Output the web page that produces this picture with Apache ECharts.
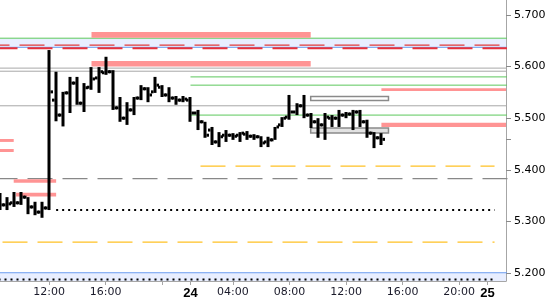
<!DOCTYPE html>
<html><head><meta charset="utf-8">
<script src="https://cdn.jsdelivr.net/npm/echarts@6/dist/echarts.min.js"></script>
<style>html,body{margin:0;padding:0;background:#fff}#c{width:550px;height:300px}</style>
</head><body><div id="c"></div>
<script>
// ---- data ----
// OHLC 30-minute bars: [time, open, high, low, close]
const bars = [
  ["23 08:30",5.332,5.355,5.322,5.332],
  ["23 09:00",5.332,5.347,5.322,5.334],
  ["23 09:30",5.336,5.357,5.328,5.336],
  ["23 10:00",5.336,5.357,5.332,5.347],
  ["23 10:30",5.347,5.347,5.314,5.328],
  ["23 11:00",5.328,5.338,5.312,5.318],
  ["23 11:30",5.318,5.338,5.307,5.326],
  ["23 12:00",5.326,5.632,5.322,5.551],
  ["23 12:30",5.535,5.590,5.494,5.506],
  ["23 13:00",5.506,5.551,5.484,5.549],
  ["23 13:30",5.549,5.580,5.510,5.568],
  ["23 14:00",5.568,5.580,5.526,5.529],
  ["23 14:30",5.529,5.568,5.512,5.559],
  ["23 15:00",5.560,5.599,5.555,5.576],
  ["23 15:30",5.578,5.599,5.549,5.590],
  ["23 16:00",5.588,5.619,5.584,5.590],
  ["23 16:30",5.590,5.593,5.516,5.520],
  ["23 17:00",5.520,5.541,5.493,5.500],
  ["23 17:30",5.500,5.531,5.487,5.516],
  ["23 18:00",5.516,5.541,5.506,5.539],
  ["23 18:30",5.539,5.564,5.535,5.557],
  ["23 19:00",5.557,5.560,5.531,5.545],
  ["23 19:30",5.551,5.580,5.549,5.564],
  ["23 20:00",5.560,5.564,5.541,5.545],
  ["23 20:30",5.545,5.560,5.531,5.539],
  ["23 21:00",5.539,5.543,5.526,5.535],
  ["23 21:30",5.535,5.543,5.531,5.537],
  ["24 01:00",5.535,5.541,5.493,5.510],
  ["24 01:30",5.510,5.516,5.477,5.493],
  ["24 02:00",5.493,5.493,5.462,5.467],
  ["24 02:30",5.477,5.483,5.448,5.454],
  ["24 03:00",5.454,5.473,5.444,5.464],
  ["24 03:30",5.467,5.477,5.454,5.467],
  ["24 04:00",5.467,5.471,5.458,5.465],
  ["24 04:30",5.467,5.473,5.454,5.471],
  ["24 05:00",5.469,5.475,5.458,5.465],
  ["24 05:30",5.465,5.469,5.458,5.464],
  ["24 06:00",5.464,5.465,5.444,5.452],
  ["24 06:30",5.454,5.464,5.444,5.458],
  ["24 07:00",5.458,5.483,5.458,5.483],
  ["24 07:30",5.487,5.502,5.483,5.500],
  ["24 08:00",5.502,5.545,5.497,5.512],
  ["24 08:30",5.512,5.529,5.506,5.524],
  ["24 09:00",5.524,5.545,5.500,5.506],
  ["24 09:30",5.506,5.510,5.481,5.493],
  ["24 10:00",5.493,5.500,5.462,5.487],
  ["24 10:30",5.487,5.510,5.458,5.502],
  ["24 11:00",5.500,5.506,5.483,5.500],
  ["24 11:30",5.500,5.516,5.483,5.506],
  ["24 12:00",5.506,5.512,5.500,5.508],
  ["24 12:30",5.508,5.516,5.477,5.512],
  ["24 13:00",5.512,5.516,5.483,5.493],
  ["24 13:30",5.493,5.497,5.462,5.471],
  ["24 14:00",5.471,5.473,5.442,5.462],
  ["24 14:30",5.462,5.471,5.448,5.459]
];
const lastPrice = 5.459;

// x-axis ticks (session time: 01:00-22:00 each day)
const xTickTimes  = ["23 12:00","23 16:00","23 20:00","24 01:00","24 04:00","24 08:00","24 12:00","24 16:00","24 20:00","25 01:00"];
const xTickLabels = ["12:00","16:00","","24","04:00","08:00","12:00","16:00","20:00","25"];
const yTickValues = [5.2,5.3,5.4,5.5,5.6,5.7];

// horizontal levels: [price, from, to]
const greenLevels = [[5.655,"23 08:00","25 03:00"],[5.580,"24 01:00","25 03:00"],[5.564,"24 01:00","25 03:00"],[5.506,"24 01:00","25 03:00"]];
const grayLevels = [[5.597,"23 08:00","25 03:00"],[5.591,"23 08:00","25 03:00"],[5.524,"23 08:00","25 03:00"]];
const grayDashLevels = [[5.383,"23 08:00","25 03:00"]];
const yellowDashLevels = [[5.407,"24 01:00","25 01:30"],[5.260,"23 08:00","25 01:30"]];
const blackDotLevels = [[5.322,"23 12:30","25 01:30"],[5.1875,"23 08:00","25 01:30"]];
const redThinLevels = [[5.6415,"23 08:00","25 03:00"]];
const redThickLevels = [[5.6355,"23 08:00","25 03:00"]];
const blueLevels = [[5.6373,"23 08:00","25 03:00"],[5.2005,"23 08:00","25 03:00"]];
// zones: [low, high, from, to]
const blueZones = [[5.6376,5.6545,"23 08:00","25 03:00"],[5.170,5.2005,"23 08:00","25 03:00"]];
const pinkZones = [
  [5.656,5.667,"23 15:00","24 09:30"],
  [5.600,5.611,"23 15:00","24 09:30"],
  [5.5525,5.558,"24 14:30","25 03:00"],
  [5.483,5.4913,"24 14:30","25 03:00"],
  [5.454,5.4597,"23 08:00","23 09:30"],
  [5.4345,5.4403,"23 08:00","23 09:30"],
  [5.375,5.3816,"23 09:30","23 12:30"],
  [5.348,5.3556,"23 09:40","23 12:30"]
];
const grayBoxes = [[5.5343,5.5421,"24 09:30","24 15:00"]];
const grayFilledBoxes = [[5.4713,5.481,"24 09:30","24 15:00"]];

// ---- helpers ----
function T(s){ const d=+s.slice(0,2), h=+s.slice(3,5), m=+s.slice(6,8); return (d-23)*21 + h + m/60 - 1; }
const xTickT = xTickTimes.map(T);
const FONT = "'DejaVu Sans', Verdana, sans-serif";

function hlines(arr, style, z){
  return arr.map(a => ({type:'line', data:[[T(a[1]),a[0]],[T(a[2]),a[0]]], symbol:'none', silent:true,
    animation:false, clip:true, lineStyle:style, z:z}));
}
function zoneSeries(arr, style, z){
  return {type:'custom', silent:true, animation:false, z:z,
    data: arr.map(a => [T(a[2]),T(a[3]),a[0],a[1]]),
    encode:{x:[0,1], y:[2,3]},
    renderItem(params, api){
      const cs = params.coordSys;
      const p1 = api.coord([api.value(0), api.value(3)]);
      const p2 = api.coord([api.value(1), api.value(2)]);
      let x1 = Math.max(cs.x, p1[0]), x2 = Math.min(cs.x+cs.width, p2[0]);
      let y1 = Math.max(cs.y, p1[1]), y2 = Math.min(cs.y+cs.height, p2[1]);
      return {type:'rect', shape:{x:x1, y:y1, width:x2-x1, height:y2-y1}, style:style};
    }};
}

const ohlc = bars.map(b => [T(b[0]), b[1], b[2], b[3], b[4]]);

const series = [].concat(
  [zoneSeries(blueZones, {fill:'#e8eeff'}, 1)],
  hlines(greenLevels, {color:'#5cc85c', width:1}, 3),
  hlines(grayLevels, {color:'#a8a8a8', width:1}, 3),
  hlines(grayDashLevels, {color:'#888888', width:1.2, type:[25,10]}, 3),
  hlines(yellowDashLevels, {color:'#ffc125', width:1.2, type:[25,10], dashOffset:-10}, 3),
  hlines(blackDotLevels, {color:'#000000', width:2, type:[2,4]}, 3),
  hlines(redThinLevels, {color:'#e03a3a', width:1.2, type:[25,10], dashOffset:8}, 4),
  hlines(redThickLevels, {color:'#e8303a', width:2, type:[25,10]}, 4),
  hlines(blueLevels, {color:'#6b9cf0', width:1}, 3),
  [zoneSeries(pinkZones, {fill:'#ff9494'}, 5)],
  [zoneSeries(grayBoxes, {fill:'#ffffff', stroke:'#8a8a8a', lineWidth:1.5}, 5)],
  [zoneSeries(grayFilledBoxes, {fill:'#e2e2e2', stroke:'#8a8a8a', lineWidth:1.5}, 5)],
  [{
    type:'custom', z:10, animation:false, silent:true,
    data: ohlc, encode:{x:0, y:[1,2,3,4]},
    renderItem(params, api){
      const t=api.value(0);
      const pO=api.coord([t,api.value(1)]), pH=api.coord([t,api.value(2)]),
            pL=api.coord([t,api.value(3)]), pC=api.coord([t,api.value(4)]);
      const x=Math.round(pH[0]);
      return {type:'group', children:[
        {type:'rect', shape:{x:x-1.5, y:pH[1], width:3, height:Math.max(pL[1]-pH[1],2)}, style:{fill:'#000'}},
        {type:'rect', shape:{x:x-4, y:pO[1]-1.5, width:2.5, height:3}, style:{fill:'#000'}},
        {type:'rect', shape:{x:x+1.5, y:pC[1]-1.5, width:2.5, height:3}, style:{fill:'#000'}}
      ]};
    },
    markLine:{
      silent:true, symbol:'none', animation:false,
      lineStyle:{opacity:0},
      data:[{yAxis:lastPrice}],
      label:{show:true, position:'end', distance:6, formatter: lastPrice.toFixed(3),
        fontFamily:FONT, fontSize:11, color:'#000',
        backgroundColor:'#ffd700', borderColor:'#d9a800', borderWidth:1,
        padding:[5,3,4,3]}
    }
  }]
);

const chart = echarts.init(document.getElementById('c'), null, {renderer:'canvas'});
chart.setOption({
  animation:false,
  backgroundColor:'#ffffff',
  grid:{left:0, right:44, top:0, bottom:19, containLabel:false, outerBoundsMode:'none'},
  xAxis:{
    type:'value', min:7.53, max:43.31,
    splitLine:{show:false},
    axisLine:{show:true, lineStyle:{color:'#a6a6a6', width:1}},
    axisTick:{show:true, length:4, lineStyle:{color:'#a6a6a6'}, customValues:xTickT},
    axisLabel:{show:true, customValues:xTickT.filter((t,i)=>xTickLabels[i]!==''), margin:6,
      fontFamily:FONT, fontSize:11, color:'#1a1a2a',
      formatter(v){
        const i = xTickT.findIndex(t=>Math.abs(t-v)<1e-6);
        if(i<0) return '';
        const s = xTickLabels[i];
        return (s.length===2) ? '{b|'+s+'}' : s;
      },
      rich:{b:{fontFamily:"'Liberation Sans', Arial, sans-serif", fontWeight:'bold', fontSize:13, color:'#000'}}
    }
  },
  yAxis:{
    type:'value', position:'right', min:5.1845, max:5.729, scale:true,
    splitLine:{show:false},
    axisLine:{show:true, lineStyle:{color:'#a6a6a6', width:1}},
    axisTick:{show:true, length:5, inside:false, lineStyle:{color:'#8a8a8a'}, customValues:yTickValues.concat([lastPrice])},
    axisLabel:{show:true, customValues:yTickValues, margin:8, fontFamily:FONT, fontSize:11, color:'#000',
      formatter:v=>v.toFixed(3)}
  },
  series: series
});
</script>
</body></html>
